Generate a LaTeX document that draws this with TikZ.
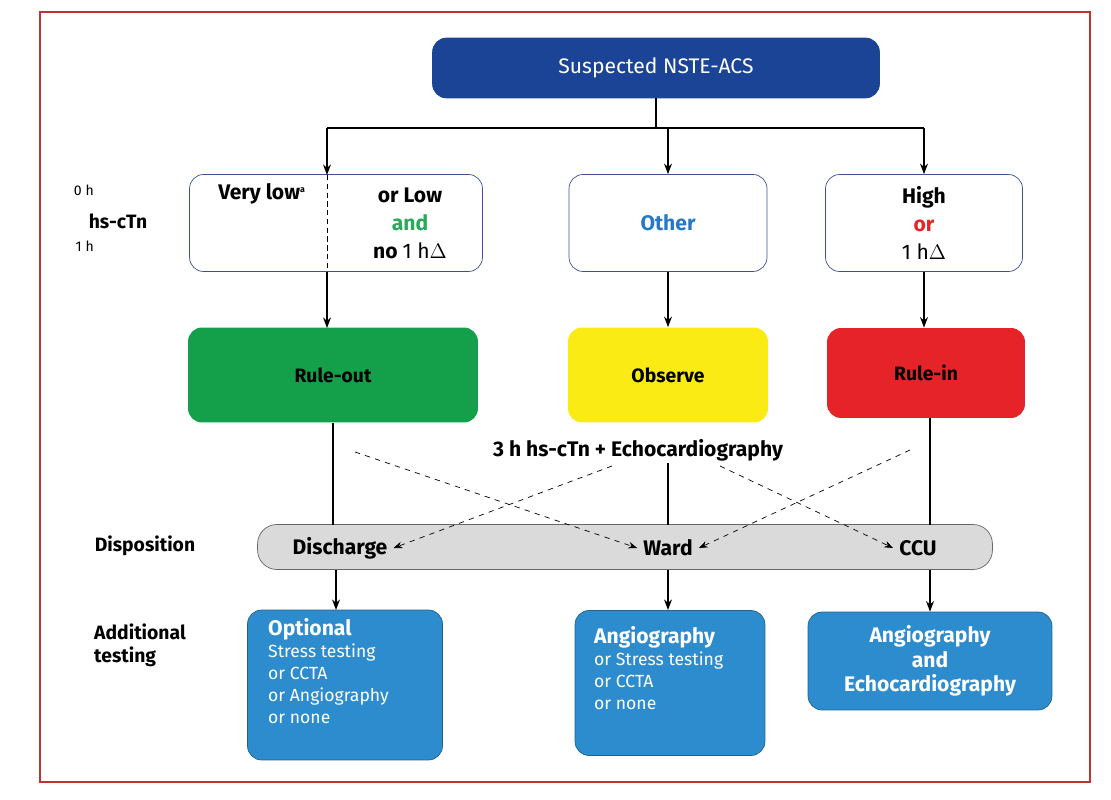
\documentclass[tikz,border=0pt]{standalone}
\usepackage{fontspec}
\setmainfont{Fira Sans}
\usepackage{tikz}
\usetikzlibrary{shapes,arrows,arrows.meta,positioning,calc}
\definecolor{frameRed}{RGB}{190,50,50}
\definecolor{topBlue}{RGB}{28,68,150}
\definecolor{boxEdge}{RGB}{60,80,150}
\definecolor{ruleGreen}{RGB}{20,160,75}
\definecolor{obsYellow}{RGB}{250,235,20}
\definecolor{ruleRed}{RGB}{230,35,40}
\definecolor{testBlue}{RGB}{45,140,205}
\definecolor{bandGray}{RGB}{218,218,218}
\definecolor{andGreen}{RGB}{40,170,90}
\definecolor{otherBlue}{RGB}{40,120,200}

\begin{document}
\begin{tikzpicture}[
    x=0.02cm, y=-0.02cm,
    font=\fontsize{10}{12}\selectfont,
    top/.style={rectangle, draw=topBlue, fill=topBlue, text=white, rounded corners=8pt, minimum width=8.94cm, minimum height=1.2cm, font=\fontsize{12}{14}\selectfont},
    risk/.style={rectangle, draw=boxEdge, fill=white, rounded corners=8pt, minimum height=1.94cm, align=center, font=\bfseries\fontsize{12}{16}\selectfont},
    decide/.style={rectangle, rounded corners=8pt, minimum height=1.9cm, minimum width=3.96cm, font=\bfseries\fontsize{11}{13}\selectfont},
    test/.style={rectangle, fill=testBlue, draw=testBlue!70!black, text=white, rounded corners=8pt, align=left, font=\fontsize{10}{12.5}\selectfont},
    testtext/.style={text=white, align=left, font=\fontsize{10}{12.5}\selectfont},
    arrow/.style={thick,-{Stealth[length=6pt]}},
    dasharrow/.style={dashed,-{Stealth[length=5pt]}},
    side/.style={font=\bfseries\fontsize{11}{13}\selectfont, align=left}
]
\useasboundingbox (0,0) rectangle (1111,800);
\draw[frameRed, line width=1.2pt] (40,12) rectangle (1090,782);

\node[top] (suspect) at (656,68) {Suspected NSTE-ACS};

\node[risk, minimum width=5.86cm] (low) at (336,223) {};
\node[font=\bfseries\fontsize{12}{14}\selectfont] (verylow) at (262,194) {Very low\textsuperscript{\tiny a}};
\node[font=\bfseries\fontsize{12}{16}\selectfont, align=center] (orlow) at (410,223) {or Low\\ \textcolor{andGreen}{and}\\ no {\mdseries 1 h$\Delta$}};
\draw[densely dashed] (327,175) -- (327,272);
\node[risk, minimum width=3.96cm, text=otherBlue] (other) at (668,223) {Other};
\node[risk, minimum width=3.94cm] (high) at (924,223) {High\\ \textcolor{ruleRed}{or}\\ {\mdseries 1 h$\Delta$}};

\node[left] (zeroh) at (100,190) {\fontsize{8}{9}\selectfont 0 h};
\node[side] (hsctn) at (118,221) {hs-cTn};
\node[left] (oneh) at (100,246) {\fontsize{8}{9}\selectfont 1 h};

\coordinate (split) at (656,128);
\draw[thick] (suspect.south) -- (split);
\draw[thick] (327,128) -- (924,128);
\draw[arrow] (327,128) -- (327,175);
\draw[arrow] (668,128) -- (other.north);
\draw[arrow] (924,128) -- (high.north);

\node[decide, fill=ruleGreen, minimum width=5.8cm] (ruleout) at (333,375) {Rule-out};
\node[decide, fill=obsYellow, minimum width=4cm] (observe) at (668,375) {Observe};
\node[decide, fill=ruleRed, minimum width=3.96cm, minimum height=1.8cm] (rulein) at (926,373) {Rule-in};

\draw[arrow] (327,272) -- (327,328);
\draw[arrow] (other.south) -- (other.south |- observe.north);
\draw[arrow] (high.south) -- (high.south |- rulein.north);

\node[font=\bfseries\fontsize{12}{14}\selectfont] (echo) at (638,450) {3 h hs-cTn + Echocardiography};

\node[rectangle, rounded corners=11pt, draw=black!60, fill=bandGray, minimum width=14.7cm, minimum height=0.9cm] (band) at (625,547) {};
\node[font=\bfseries\fontsize{12}{14}\selectfont] (discharge) at (340,548) {Discharge};
\node[font=\bfseries\fontsize{12}{14}\selectfont] (ward) at (668,548) {Ward};
\node[font=\bfseries\fontsize{12}{14}\selectfont] (ccu) at (918,548) {CCU};
\node[side] (disp) at (145,546) {Disposition};
\node[side] (addtest) at (140,645) {Additional\\testing};

\draw[thick] (ruleout.south) -- (333,525);
\draw[thick] (668,463) -- (668,525);
\draw[thick] (930,418) -- (930,525);

\draw[dasharrow] (355,452) -- (ward.west);
\draw[dasharrow] (612,466) -- (discharge.east);
\draw[dasharrow] (720,466) -- (ccu.west);
\draw[dasharrow] (910,450) -- (ward.east);

\node[test, minimum width=3.9cm, minimum height=3cm] (opt) at (345,685) {};
\node[testtext, anchor=north west] (opttext) at (262,612) {{\bfseries\fontsize{12}{14}\selectfont Optional}\\Stress testing\\or CCTA\\or Angiography\\or none};
\node[test, minimum width=3.8cm, minimum height=2.9cm] (angio) at (670,683) {};
\node[testtext, anchor=north west] (angiotext) at (588,620) {{\bfseries\fontsize{12}{14}\selectfont Angiography}\\or Stress testing\\or CCTA\\or none};
\node[test, align=center, minimum width=4.88cm, minimum height=1.96cm, font=\bfseries\fontsize{12}{14}\selectfont] (angioecho) at (930,661) {Angiography\\and\\Echocardiography};

\draw[arrow] (336,570) -- (336,610);
\draw[arrow] (668,570) -- (668,610);
\draw[arrow] (930,570) -- (angioecho.north);

\end{tikzpicture}
\end{document}
